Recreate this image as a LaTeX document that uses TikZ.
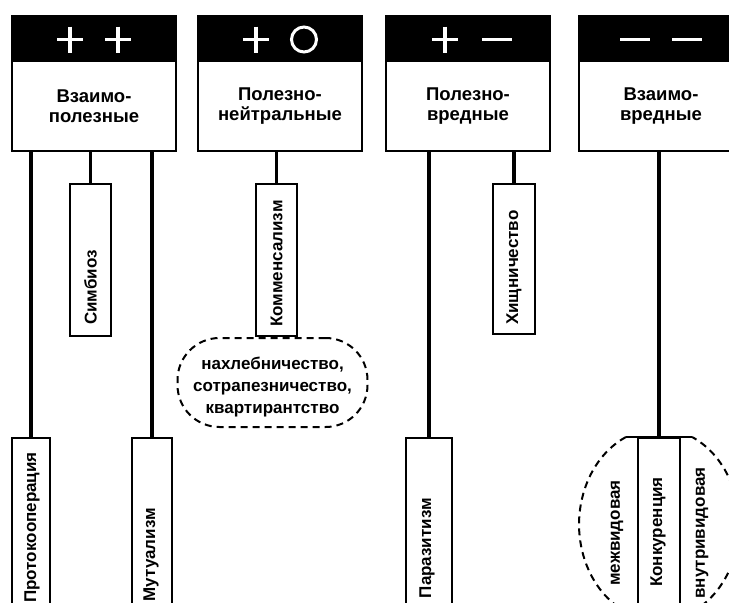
\documentclass[tikz,border=0pt]{standalone}
\usepackage{fontspec}
\setmainfont{Liberation Sans}
\usetikzlibrary{calc}
\begin{document}
\begin{tikzpicture}[x=1pt,y=-1pt,
  topbar/.style={fill=black, draw=black, line width=2pt, minimum width=164pt, minimum height=45pt, inner sep=0pt, anchor=north},
  hbox/.style={draw, fill=white, line width=2.2pt, minimum width=164pt, minimum height=90pt, inner sep=0pt, align=center, anchor=north, font=\fontsize{18.5}{20}\selectfont\bfseries},
  sym/.style={draw=white, line width=3.5pt},
  conn/.style={line width=3.2pt},
  vbox/.style={draw, line width=2pt, inner sep=0pt, anchor=north},
  vtext/.style={rotate=90, inner sep=0pt, font=\fontsize{17}{20}\selectfont\bfseries},
  dsh/.style={dash pattern=on 7pt off 5pt, line width=2pt}]
\clip (0,0) rectangle (729,603);
\fill[white] (0,0) rectangle (729,603);

% headers
\node[topbar] (t1) at (94,15) {};
\node[hbox] (h1) at (94,60) {Взаимо-\\полезные};
\node[topbar] (t2) at (280,15) {};
\node[hbox] (h2) at (280,60) {Полезно-\\нейтральные};
\node[topbar] (t3) at (468,15) {};
\node[hbox] (h3) at (468,60) {Полезно-\\вредные};
\node[topbar] (t4) at (661,15) {};
\node[hbox] (h4) at (661,60) {Взаимо-\\вредные};

% symbols
\draw[sym] ([xshift=-24pt,yshift=-1pt]t1.center) +(-13,0) -- +(13,0) +(0,-13) -- +(0,13);
\draw[sym] ([xshift=24pt,yshift=-1pt]t1.center) +(-13,0) -- +(13,0) +(0,-13) -- +(0,13);
\draw[sym] ([xshift=-24pt,yshift=-1pt]t2.center) +(-13,0) -- +(13,0) +(0,-13) -- +(0,13);
\draw[sym, line width=3pt] ([xshift=24pt,yshift=-1pt]t2.center) circle[radius=12.5pt];
\draw[sym] ([xshift=-23pt,yshift=-1pt]t3.center) +(-13,0) -- +(13,0) +(0,-13) -- +(0,13);
\draw[sym] ([xshift=29pt,yshift=-1pt]t3.center) +(-15,0) -- +(15,0);
\draw[sym] ([xshift=-26pt,yshift=-1pt]t4.center) +(-15,0) -- +(15,0);
\draw[sym] ([xshift=26pt,yshift=-1pt]t4.center) +(-15,0) -- +(15,0);

% middle boxes
\node[vbox, minimum width=41pt, minimum height=152pt] (sim) at (90.5,183) {};
\node[vtext, anchor=west] (simt) at (90.5,325) {Симбиоз};
\node[vbox, minimum width=41pt, minimum height=152pt] (kom) at (276.5,183) {};
\node[vtext, anchor=west] (komt) at (276.5,327) {Комменсализм};
\node[vbox, minimum width=42pt, minimum height=150pt] (hish) at (514,183) {};
\node[vtext, anchor=west] (hisht) at (514,325) {Хищничество};

% bottom boxes
\node[vbox, minimum width=38pt, minimum height=200pt] (prot) at (31,437) {};
\node[vtext, anchor=east] (prott) at (32,452) {Протокооперация};
\node[vbox, minimum width=40pt, minimum height=200pt] (mut) at (152,437) {};
\node[vtext, anchor=east] (mutt) at (151,508) {Мутуализм};
\node[vbox, minimum width=46pt, minimum height=200pt] (par) at (429,437) {};
\node[vtext, anchor=east] (part) at (427,498) {Паразитизм};
\node[vbox, minimum width=42pt, minimum height=200pt] (konk) at (659,437) {};
\node[vtext] (konkt) at (658,532) {Конкуренция};
\node[vtext] (mezh) at (617,533) {межвидовая};
\node[vtext] (vnutr) at (702,533) {внутривидовая};

% connectors
\draw[conn] (prot.north |- h1.south) -- (prot.north);
\draw[conn] (sim.north |- h1.south) -- (sim.north);
\draw[conn] (mut.north |- h1.south) -- (mut.north);
\draw[conn] (kom.north |- h2.south) -- (kom.north);
\draw[conn] (par.north |- h3.south) -- (par.north);
\draw[conn] (hish.north |- h3.south) -- (hish.north);
\draw[conn] (konk.north |- h4.south) -- (konk.north);

% dashed group under Commensalism
\node[draw, dsh, rounded corners=42pt, minimum width=190pt, minimum height=89pt, inner sep=0pt,
      anchor=north] (koex) at ([xshift=-4pt]kom.south) {};
\node[align=center, inner sep=0pt, font=\fontsize{17}{22}\selectfont\bfseries]
  (koext) at ([yshift=-5pt]koex.center) {нахлебничество,\\сотрапезничество,\\квартирантство};

% competition group
\coordinate (cl) at (626,437);
\coordinate (cr) at (692,437);
\draw[line width=2pt] (cl) -- (cr);
\draw[dsh] (cl) arc[start angle=114.4, end angle=425.6, x radius=80pt, y radius=96pt];
\end{tikzpicture}
\end{document}
